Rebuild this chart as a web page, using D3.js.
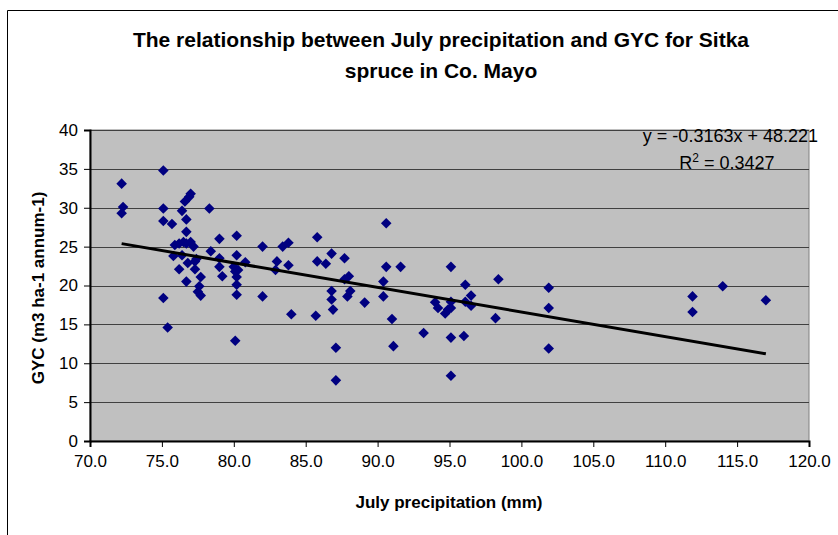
<!DOCTYPE html>
<html>
<head>
<meta charset="utf-8">
<script src="https://cdn.jsdelivr.net/npm/d3@7/dist/d3.min.js"></script>
<style>
  body { margin: 0; background: #fff; }
  text { font-family: "Liberation Sans", Arial, sans-serif; }
</style>
</head>
<body>
<div id="chart"></div>
<script>
// July precipitation (mm) and GYC
var precip = [72.2, 72.3, 72.2,
  75.1, 75.1, 75.1, 75.7, 75.1, 75.4, 75.8, 75.9,
  77.0, 76.9, 76.6, 76.4, 76.7, 76.7, 76.2, 76.5, 76.7, 77.0, 77.2, 76.4, 76.8, 76.2,
  77.3, 77.4, 77.3, 76.7, 77.7, 77.6, 77.5, 77.7,
  78.3, 78.4, 79.0, 79.0, 79.0, 79.2, 80.2, 80.2, 80.0, 80.1, 80.3, 80.8, 80.2, 80.2, 80.2, 80.1,
  82.0, 82.0, 83.4, 83.8, 83.0, 82.9, 83.8, 84.0,
  85.8, 85.8, 86.4, 86.8, 87.7, 87.7, 88.0, 86.8, 86.8, 88.1, 87.9, 86.9, 85.7, 87.1, 87.1, 89.1,
  90.6, 90.6, 91.6, 90.4, 90.4, 91.0, 91.1,
  95.1, 96.1, 96.5, 94.0, 94.2, 94.7, 95.1, 95.1, 94.9, 96.1, 96.5, 93.2, 95.1, 96.0, 95.1,
  98.4, 98.2, 101.9, 101.9, 101.9, 111.9, 111.9, 114.0, 117.0];
var gyc = [33.1, 30.1, 29.3,
  34.8, 29.9, 28.3, 27.9, 18.4, 14.6, 23.8, 25.2,
  31.8, 31.4, 30.8, 29.6, 28.5, 26.9, 25.4, 25.6, 25.4, 25.6, 25.0, 23.9, 22.9, 22.1,
  23.1, 23.4, 22.1, 20.5, 21.1, 19.9, 19.2, 18.7,
  29.9, 24.4, 26.0, 23.5, 22.4, 21.2, 26.4, 23.9, 22.4, 21.8, 22.0, 23.0, 21.1, 20.1, 18.8, 12.9,
  25.0, 18.6, 25.0, 25.5, 23.1, 22.0, 22.6, 16.3,
  26.2, 23.1, 22.8, 24.1, 23.5, 20.8, 21.2, 19.3, 18.2, 19.3, 18.6, 16.9, 16.1, 12.0, 7.8, 17.8,
  28.0, 22.4, 22.4, 20.5, 18.6, 15.7, 12.2,
  22.4, 20.1, 18.7, 17.85, 17.1, 16.4, 17.9, 17.1, 16.9, 17.9, 17.4, 13.9, 13.3, 13.5, 8.4,
  20.8, 15.8, 19.7, 17.1, 11.9, 18.6, 16.6, 19.9, 18.1];

var xTicks = [70, 75, 80, 85, 90, 95, 100, 105, 110, 115, 120];
var yTicks = [0, 5, 10, 15, 20, 25, 30, 35, 40];

// linear trendline from the chart label
var slope = -0.3163, intercept = 48.221, rSquared = 0.3427;

var titleLines = ["The relationship between July precipitation and GYC for Sitka",
                  "spruce in Co. Mayo"];

// set the dimensions and margins of the graph
var W = 838, H = 535;
var margin = {top: 130, right: 29, bottom: 94, left: 90},
    width = W - margin.left - margin.right,
    height = H - margin.top - margin.bottom;

var svg0 = d3.select("#chart")
  .append("svg")
    .attr("width", W)
    .attr("height", H);

// outer chart frame (runs off the picture at right and bottom)
svg0.append("path")
  .attr("d", "M7.5,545V10.5H845")
  .attr("fill", "none")
  .attr("stroke", "#000")
  .attr("stroke-width", 1);

var svg = svg0.append("g")
  .attr("transform", "translate(" + margin.left + "," + margin.top + ")");

var x = d3.scaleLinear().domain([70, 120]).range([0, width]);
var y = d3.scaleLinear().domain([0, 40]).range([height, 0]);

// plot area
svg.append("rect")
  .attr("width", width)
  .attr("height", height)
  .attr("fill", "#c0c0c0")
  .attr("stroke", "#808080")
  .attr("stroke-width", 1);

// gridlines
svg.selectAll(".grid")
  .data(yTicks.filter(function(d) { return d > 0; }))
  .enter().append("line")
    .attr("x1", 0)
    .attr("x2", width)
    .attr("y1", function(d) { return Math.round(y(d)) + 0.5; })
    .attr("y2", function(d) { return Math.round(y(d)) + 0.5; })
    .attr("stroke", "#404040")
    .attr("stroke-width", 1);

// axes
var xAxis = svg.append("g")
  .attr("transform", "translate(0," + height + ")")
  .call(d3.axisBottom(x).tickValues(xTicks).tickSize(6).tickPadding(8)
        .tickFormat(d3.format(".1f")));
var yAxis = svg.append("g")
  .call(d3.axisLeft(y).tickValues(yTicks).tickSize(6).tickPadding(6));

[xAxis, yAxis].forEach(function(a) {
  a.select(".domain").attr("stroke", "#000").attr("stroke-width", 2);
  a.selectAll(".tick line").attr("stroke", "#000");
  a.selectAll(".tick text")
    .style("font-family", "'Liberation Sans', Arial, sans-serif")
    .style("font-size", "17px")
    .attr("fill", "#000");
});

// points
svg.selectAll(".dot")
  .data(precip.map(function(p, i) { return [p, gyc[i]]; }))
  .enter().append("path")
    .attr("d", d3.symbol().type(d3.symbolSquare).size(56))
    .attr("transform", function(d) {
      return "translate(" + x(d[0]) + "," + y(d[1]) + ") rotate(45)";
    })
    .attr("fill", "#000080");

// trendline over the data range
var xMin = d3.min(precip), xMax = d3.max(precip);
svg.append("line")
  .attr("x1", x(xMin))
  .attr("y1", y(slope * xMin + intercept))
  .attr("x2", x(xMax))
  .attr("y2", y(slope * xMax + intercept))
  .attr("stroke", "#000")
  .attr("stroke-width", 3);

// equation label
svg0.append("text")
  .attr("x", 818)
  .attr("y", 142)
  .attr("text-anchor", "end")
  .style("font-size", "18px")
  .text("y = " + slope + "x + " + intercept);
var r2 = svg0.append("text")
  .attr("x", 727)
  .attr("y", 169)
  .attr("text-anchor", "middle")
  .style("font-size", "18px");
r2.append("tspan").text("R");
r2.append("tspan").attr("dy", -7).style("font-size", "12px").text("2");
r2.append("tspan").attr("dy", 7).text(" = " + rSquared);

// title
svg0.selectAll(".title")
  .data(titleLines)
  .enter().append("text")
    .attr("x", 441)
    .attr("y", function(d, i) { return 47 + i * 31; })
    .attr("text-anchor", "middle")
    .style("font-size", "21px")
    .style("font-weight", "bold")
    .text(function(d) { return d; });

// axis titles
svg0.append("text")
  .attr("x", 449)
  .attr("y", 508)
  .attr("text-anchor", "middle")
  .style("font-size", "17px")
  .style("font-weight", "bold")
  .text("July precipitation (mm)");

svg0.append("text")
  .attr("transform", "translate(44,288) rotate(-90)")
  .attr("text-anchor", "middle")
  .style("font-size", "17px")
  .style("font-weight", "bold")
  .text("GYC (m3 ha-1 annum-1)");
</script>
</body>
</html>
